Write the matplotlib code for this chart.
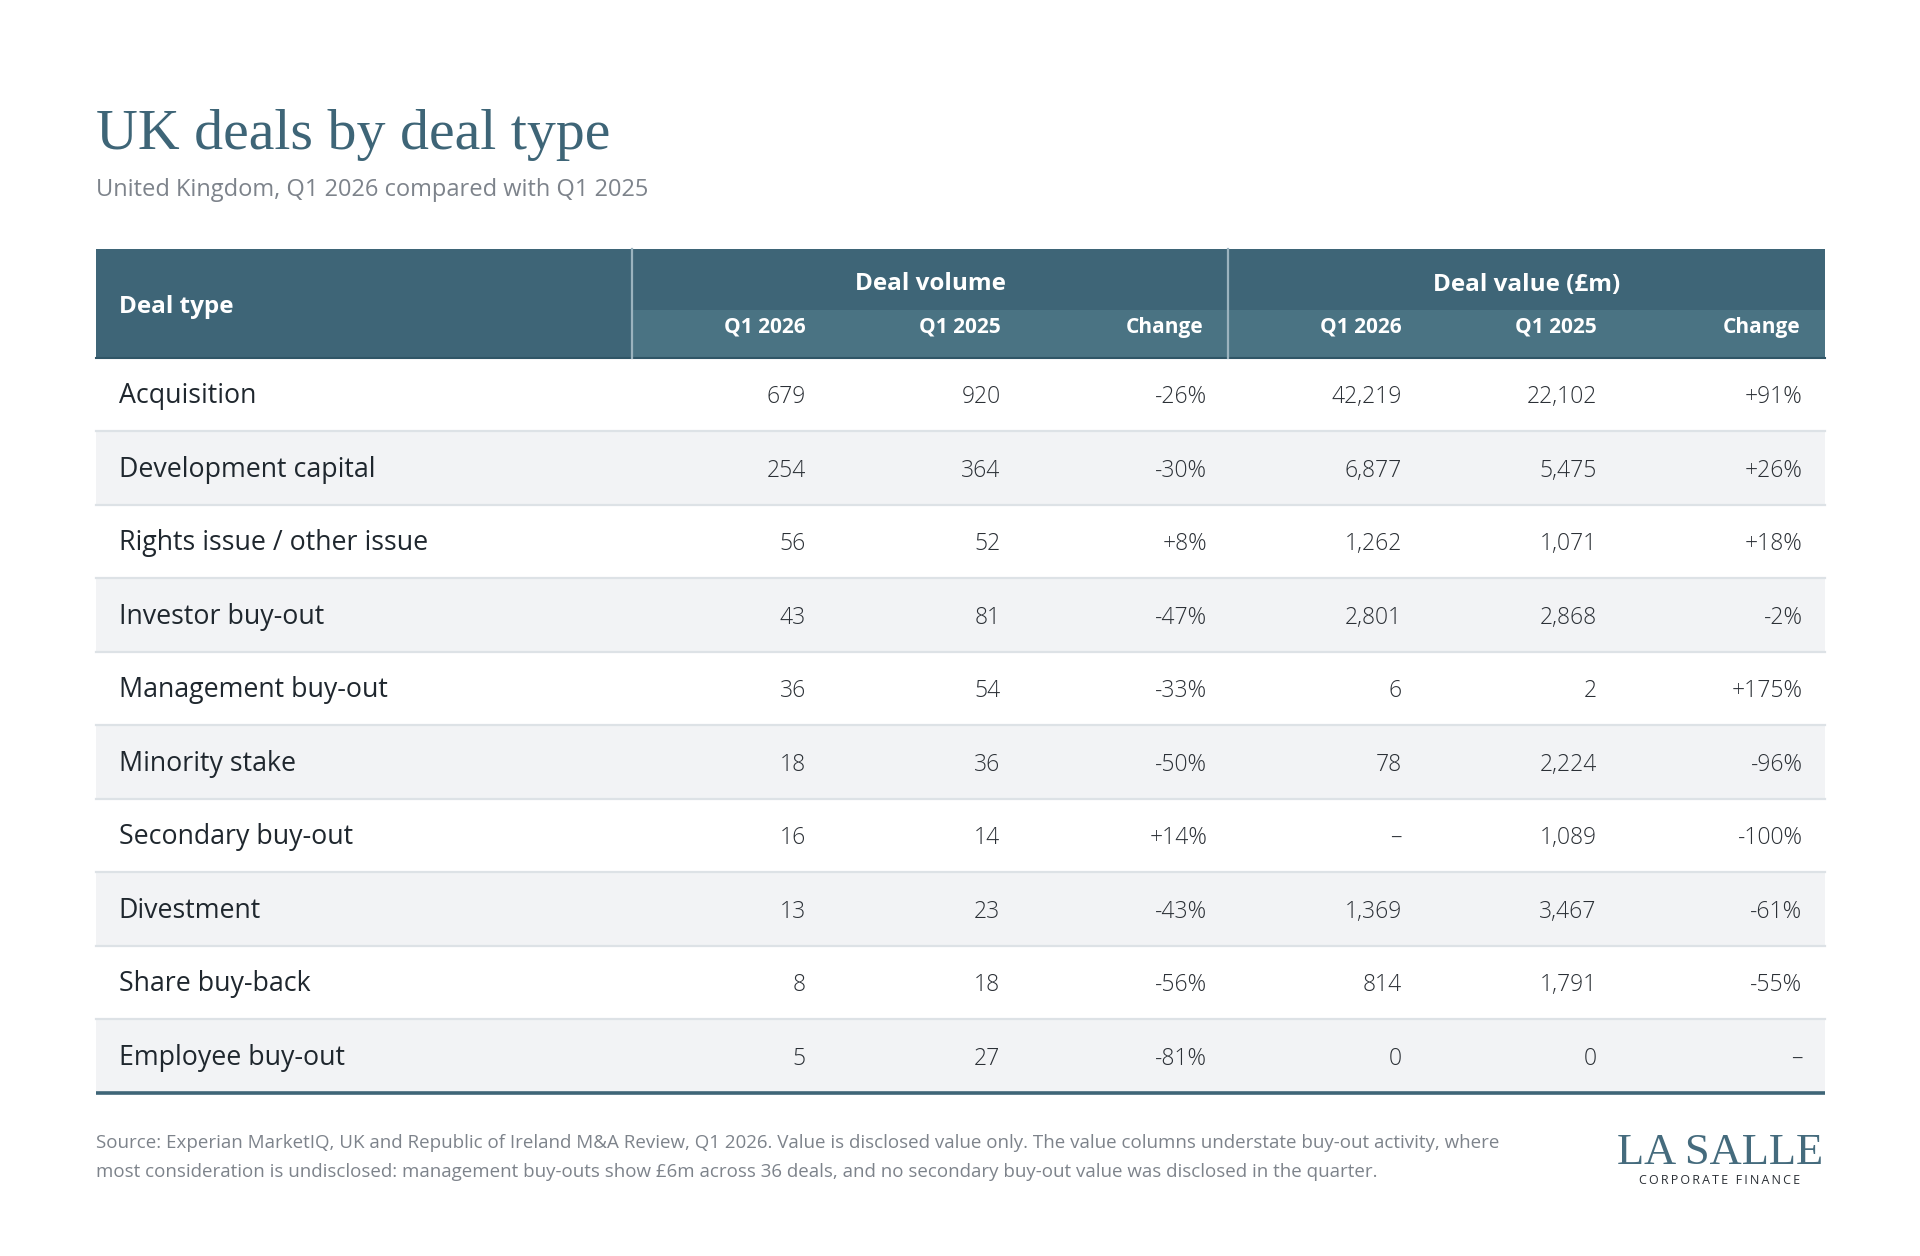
import matplotlib
matplotlib.use("Agg")
import matplotlib.pyplot as plt
from matplotlib.patches import Rectangle

# ---------------- data ----------------
deal_types = ["Acquisition", "Development capital", "Rights issue / other issue",
              "Investor buy-out", "Management buy-out", "Minority stake",
              "Secondary buy-out", "Divestment", "Share buy-back", "Employee buy-out"]
vol_q1_2026 = [679, 254, 56, 43, 36, 18, 16, 13, 8, 5]
vol_q1_2025 = [920, 364, 52, 81, 54, 36, 14, 23, 18, 27]
vol_change = [-26, -30, 8, -47, -33, -50, 14, -43, -56, -81]
val_q1_2026 = [42219, 6877, 1262, 2801, 6, 78, None, 1369, 814, 0]
val_q1_2025 = [22102, 5475, 1071, 2868, 2, 2224, 1089, 3467, 1791, 0]
val_change = [91, 26, 18, -2, 175, -96, -100, -61, -55, None]

group_labels = ["Deal volume", "Deal value (£m)"]
sub_labels = ["Q1 2026", "Q1 2025", "Change"]
title = "UK deals by deal type"
subtitle = "United Kingdom, Q1 2026 compared with Q1 2025"
footer_lines = [
    "Source: Experian MarketIQ, UK and Republic of Ireland M&A Review, Q1 2026. Value is disclosed value only. "
    "The value columns understate buy-out activity, where",
    "most consideration is undisclosed: management buy-outs show £6m across 36 deals, "
    "and no secondary buy-out value was disclosed in the quarter.",
]

# ---------------- style ----------------
DARK = "#3e6577"
SUB = "#4a7383"
ALT = "#f2f3f5"
SEP = "#dde2e6"
TXT = "#1f272e"
NUM = "#2b3036"
GREY = "#7d838b"
SANS = ["Open Sans", "DejaVu Sans"]
SERIF = ["Liberation Serif", "DejaVu Serif"]

def fmt_num(v):
    return "\u2013" if v is None else f"{v:,}"

def fmt_pct(v):
    if v is None:
        return "\u2013"
    return f"+{v}%" if v > 0 else f"-{abs(v)}%"

W, H = 1920, 1256
fig = plt.figure(figsize=(W / 100, H / 100), dpi=100)
ax = fig.add_axes([0, 0, 1, 1])
ax.set_xlim(0, W)
ax.set_ylim(H, 0)
ax.axis("off")

left, right = 95.5, 1824.5
div1, div2 = 631.8, 1228.2
h_top, h_mid, h_bot = 248.6, 309.8, 357.6
row_h = 73.5
n = len(deal_types)

# title & subtitle
ax.text(left, 149, title, family=SERIF, fontsize=41.7, color=DARK, va="baseline", ha="left")
ax.text(left, 195.5, subtitle, family=SANS, fontsize=17, color=GREY, va="baseline", ha="left")

# header backgrounds
ax.add_patch(Rectangle((left, h_top), right - left, h_bot - h_top, facecolor=DARK, edgecolor="none"))
ax.add_patch(Rectangle((div1, h_mid), right - div1, h_bot - h_mid, facecolor=SUB, edgecolor="none"))
ax.plot([left, right], [h_bot, h_bot], color="#2f5566", lw=1.5)
for x in (div1, div2):
    ax.plot([x, x], [h_top, h_bot], color="#9bb3be", lw=1.6)

ax.text(118.8, (h_top + h_bot) / 2 + 10, "Deal type", family=SANS, fontsize=17.5,
        fontweight="bold", color="white", va="baseline", ha="left")

col_right = [805.7, 1000.4, 1207.4, 1402.0, 1596.7, 1802.5]
hdr_right = [805.7, 1000.4, 1203.7, 1402.0, 1596.7, 1800.0]
for g, (x0, x1) in enumerate([(div1, div2), (div2, right)]):
    ax.text((x0 + x1) / 2, 290.5, group_labels[g], family=SANS, fontsize=17.5,
            fontweight="bold", color="white", ha="center", va="baseline")
    for k, lab in enumerate(sub_labels):
        ax.text(hdr_right[g * 3 + k], 332.5, lab, family=SANS, fontsize=15,
                fontweight="bold", color="white", ha="right", va="baseline")

# body rows
for i in range(n):
    y0 = h_bot + i * row_h
    if i % 2 == 1:
        ax.add_patch(Rectangle((left, y0), right - left, row_h, facecolor=ALT, edgecolor="none"))
    if i > 0:
        ax.plot([left, right], [y0, y0], color=SEP, lw=1.6)
    yc = y0 + row_h / 2 + 9
    ax.text(118.8, yc, deal_types[i], family=SANS, fontsize=19.3, color=TXT, ha="left", va="baseline")
    cells = [fmt_num(vol_q1_2026[i]), fmt_num(vol_q1_2025[i]), fmt_pct(vol_change[i]),
             fmt_num(val_q1_2026[i]), fmt_num(val_q1_2025[i]), fmt_pct(val_change[i])]
    for c, s in enumerate(cells):
        ax.text(col_right[c], yc, s, family=SANS, fontsize=16.5, color=NUM,
                fontweight="light", ha="right", va="baseline")

bottom = h_bot + n * row_h
ax.plot([left, right], [bottom, bottom], color=DARK, lw=2.6, solid_capstyle="butt")

# footer
for j, line in enumerate(footer_lines):
    ax.text(left, 1147.5 + j * 29.5, line, family=SANS, fontsize=13.5, color=GREY,
            ha="left", va="baseline")

# logo
ax.text(1720, 1164, "LA SALLE", family=SERIF, fontsize=32, color="#456b7d", ha="center", va="baseline")
ax.text(1720, 1184, "\u2009".join("CORPORATE FINANCE"), family=SANS, fontsize=9,
        color="#2a2f35", ha="center", va="baseline")

fig.savefig("out.png", dpi=100, facecolor="white")
